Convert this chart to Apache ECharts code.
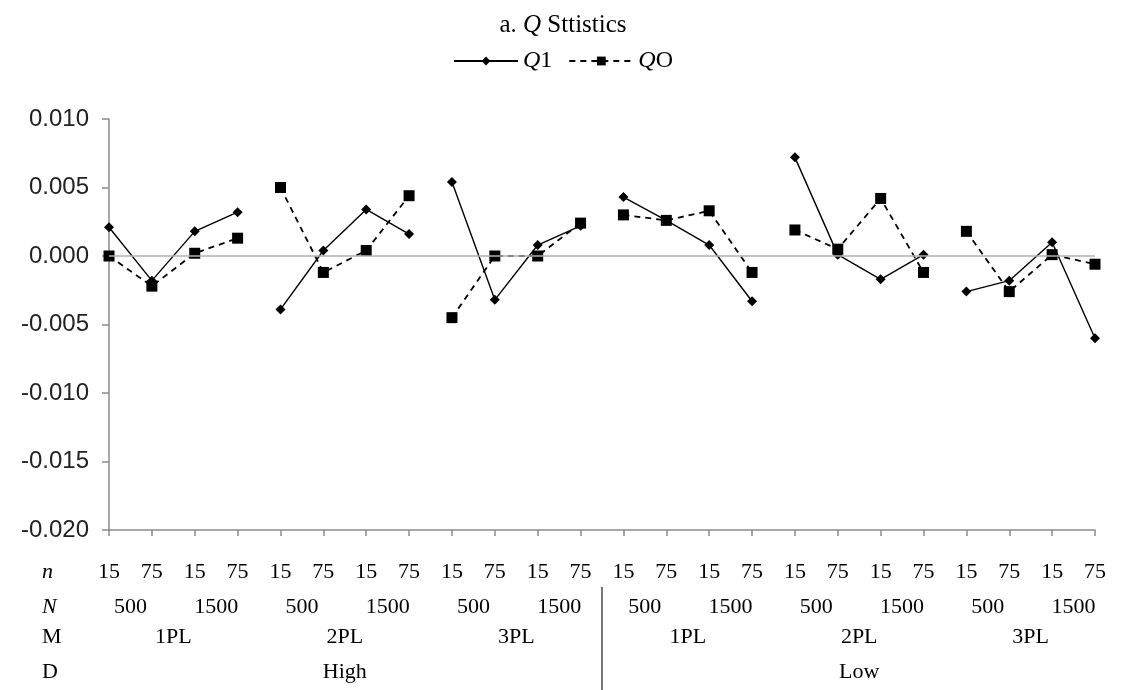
<!DOCTYPE html>
<html>
<head>
<meta charset="utf-8">
<script src="https://cdn.jsdelivr.net/npm/echarts@6/dist/echarts.min.js"></script>
<style>
  html, body { margin: 0; padding: 0; background: #fff; }
  #chart { width: 1126px; height: 690px; }
</style>
</head>
<body>
<div id="chart"></div>
<script>
// table rows under the axis
const nLabels = ['15', '75', '15', '75', '15', '75', '15', '75', '15', '75', '15', '75',
                 '15', '75', '15', '75', '15', '75', '15', '75', '15', '75', '15', '75'];
const bigNLabels = ['500', '1500', '500', '1500', '500', '1500', '500', '1500', '500', '1500', '500', '1500'];
const modelLabels = ['1PL', '2PL', '3PL', '1PL', '2PL', '3PL'];
const diffLabels = ['High', 'Low'];

// values
const q1 = [0.0021, -0.0018, 0.0018, 0.0032, -0.0039, 0.0004, 0.0034, 0.0016,
            0.0054, -0.0032, 0.0008, 0.0022, 0.0043, 0.0026, 0.0008, -0.0033,
            0.0072, 0.0001, -0.0017, 0.0001, -0.0026, -0.0018, 0.0010, -0.0060];
const qo = [0.0000, -0.0022, 0.0002, 0.0013, 0.0050, -0.0012, 0.0004, 0.0044,
            -0.0045, 0.0000, 0.0000, 0.0024, 0.0030, 0.0026, 0.0033, -0.0012,
            0.0019, 0.0005, 0.0042, -0.0012, 0.0018, -0.0026, 0.0001, -0.0006];

const serif = '"Liberation Serif", "DejaVu Serif", serif';

// each model group of 4 points is drawn as its own segment
function segments(values, name, lineType, width, symbol, symbolSize) {
    const out = [];
    for (let g = 0; g < values.length / 4; g++) {
        out.push({
            name: name,
            type: 'line',
            data: values.map((v, i) => (Math.floor(i / 4) === g ? v : '-')),
            symbol: symbol,
            symbolSize: symbolSize,
            showSymbol: true,
            lineStyle: { color: '#000', width: width, type: lineType },
            itemStyle: { color: '#000' },
            emphasis: { disabled: true },
            z: name === 'Q1' ? 3 : 2
        });
    }
    return out;
}

const series = [].concat(
    segments(q1, 'Q1', 'solid', 1.4, 'diamond', 10),
    segments(qo, 'QO', [6, 5], 1.8, 'rect', 11)
);
series[0].markLine = {
    silent: true,
    symbol: 'none',
    label: { show: false },
    lineStyle: { color: '#b0b0b0', type: 'solid', width: 1.5 },
    data: [{ yAxis: 0 }]
};

const chart = echarts.init(document.getElementById('chart'));
chart.setOption({
    animation: false,
    title: {
        text: 'a. {i|Q} Sttistics',
        left: 'center',
        top: 8,
        textStyle: {
            fontFamily: serif, fontSize: 25, fontWeight: 'normal', color: '#000',
            rich: { i: { fontFamily: serif, fontSize: 25, fontStyle: 'italic', color: '#000' } }
        }
    },
    legend: {
        data: ['Q1', 'QO'],
        top: 44,
        left: 'center',
        itemWidth: 64,
        itemHeight: 11,
        itemGap: 16,
        formatter: name => '{i|Q}' + name.slice(1),
        textStyle: {
            fontFamily: serif, fontSize: 24, color: '#000',
            rich: { i: { fontFamily: serif, fontSize: 24, fontStyle: 'italic', color: '#000' } }
        }
    },
    grid: { left: 109, right: 31, top: 119, bottom: 160 },
    xAxis: {
        type: 'category',
        data: nLabels,
        boundaryGap: false,
        axisLine: { onZero: false, lineStyle: { color: '#8c8c8c', width: 1.5 } },
        axisTick: { show: true, length: 6, lineStyle: { color: '#8c8c8c', width: 1.5 } },
        axisLabel: {
            interval: 0, margin: 31, color: '#000',
            fontFamily: serif, fontSize: 22
        },
        splitLine: { show: false }
    },
    yAxis: {
        type: 'value',
        min: -0.02,
        max: 0.01,
        interval: 0.005,
        axisLine: { show: true, lineStyle: { color: '#8c8c8c', width: 1.5 } },
        axisTick: { show: true, length: 7, lineStyle: { color: '#8c8c8c', width: 1.5 } },
        axisLabel: {
            margin: 20, color: '#222',
            fontFamily: '"Liberation Sans", Arial, sans-serif', fontSize: 24,
            formatter: v => v.toFixed(3)
        },
        splitLine: { show: false }
    },
    series: series
});

// table under the axis, placed from the category scale
const px = i => chart.convertToPixel({ xAxisIndex: 0 }, i);
const textEl = (x, y, text, italic, align) => ({
    type: 'text',
    x: x, y: y,
    style: {
        text: text,
        fill: '#000',
        font: (italic ? 'italic ' : '') + '22px ' + serif,
        align: align || 'center',
        verticalAlign: 'middle'
    }
});

const graphic = [];
graphic.push(textEl(42, 572, 'n', true, 'left'));
graphic.push(textEl(42, 607, 'N', true, 'left'));
graphic.push(textEl(42, 637, 'M', false, 'left'));
graphic.push(textEl(42, 672, 'D', false, 'left'));
bigNLabels.forEach((t, k) => {
    graphic.push(textEl((px(2 * k) + px(2 * k + 1)) / 2, 607, t));
});
modelLabels.forEach((t, k) => {
    graphic.push(textEl((px(4 * k) + px(4 * k + 3)) / 2, 637, t));
});
diffLabels.forEach((t, k) => {
    graphic.push(textEl((px(12 * k) + px(12 * k + 11)) / 2, 672, t));
});
const sepX = (px(11) + px(12)) / 2;
graphic.push({
    type: 'line',
    shape: { x1: sepX, y1: 587, x2: sepX, y2: 690 },
    style: { stroke: '#777', lineWidth: 2 }
});
chart.setOption({ graphic: graphic });
</script>
</body>
</html>
